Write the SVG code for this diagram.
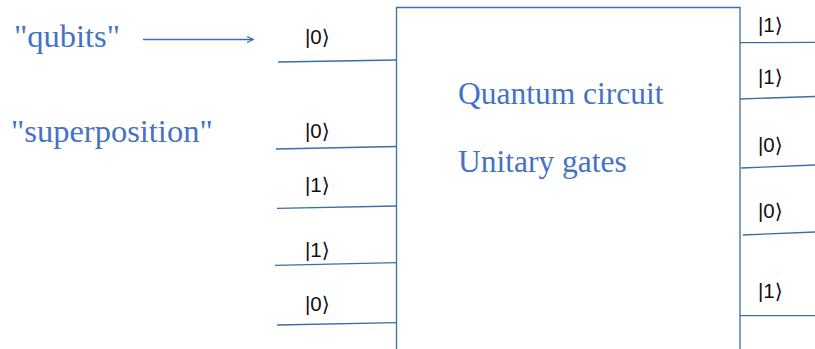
<svg xmlns="http://www.w3.org/2000/svg" width="815" height="349" viewBox="0 0 815 349">
<style>
.w{stroke:#3a6ea5;stroke-width:1.3;fill:none}
.k{font-family:"Liberation Sans","DejaVu Sans",sans-serif;font-size:20.5px;fill:#111}
.b{font-family:"Liberation Serif","DejaVu Serif",serif;font-size:31.5px;fill:#4472c4}
.q{font-size:32.5px}
</style>
<defs>
<marker id="ah" markerWidth="8" markerHeight="8" refX="7" refY="4" orient="auto" markerUnits="userSpaceOnUse">
<path d="M1,1 L7,4 L1,7" fill="none" stroke="#3a6ea5" stroke-width="1.2"/>
</marker>
</defs>
<rect width="815" height="349" fill="#fff"/>
<g id="circuit">
<path class="w" d="M396.5,360 V7.5 H740 V360"/>
<text class="b" x="458" y="104">Quantum circuit</text>
<text class="b" x="458" y="172">Unitary gates</text>
</g>
<g id="label-qubits"><text class="b q" x="14" y="47">"qubits"</text></g>
<g id="label-superposition"><text class="b q" x="11" y="142">"superposition"</text></g>
<g id="inputs">
<g id="in1"><text class="k" x="305" y="44">|0⟩</text></g>
<g id="in2"><text class="k" x="305" y="138">|0⟩</text></g>
<g id="in3"><text class="k" x="305" y="192">|1⟩</text></g>
<g id="in4"><text class="k" x="305" y="257">|1⟩</text></g>
<g id="in5"><text class="k" x="305" y="311">|0⟩</text></g>
</g>
<g id="outputs">
<g id="out1"><text class="k" x="758" y="32">|1⟩</text></g>
<g id="out2"><text class="k" x="758" y="84">|1⟩</text></g>
<g id="out3"><text class="k" x="758" y="152">|0⟩</text></g>
<g id="out4"><text class="k" x="758" y="218">|0⟩</text></g>
<g id="out5"><text class="k" x="758" y="298">|1⟩</text></g>
</g>
<g id="connectors">
<line class="w" x1="143" y1="39.5" x2="253" y2="39.5" marker-end="url(#ah)"/>
<line class="w" x1="278" y1="62" x2="397" y2="60"/>
<line class="w" x1="276" y1="149" x2="397" y2="146.5"/>
<line class="w" x1="277" y1="208.3" x2="397" y2="206"/>
<line class="w" x1="275" y1="265.3" x2="396" y2="262.7"/>
<line class="w" x1="277" y1="325" x2="397" y2="322.7"/>
<line class="w" x1="740" y1="42.7" x2="815" y2="42.3"/>
<line class="w" x1="740" y1="99" x2="815" y2="96.5"/>
<line class="w" x1="741" y1="168" x2="815" y2="165"/>
<line class="w" x1="743" y1="235" x2="815" y2="232"/>
<line class="w" x1="740" y1="315.7" x2="815" y2="315.7"/>
</g>
</svg>
